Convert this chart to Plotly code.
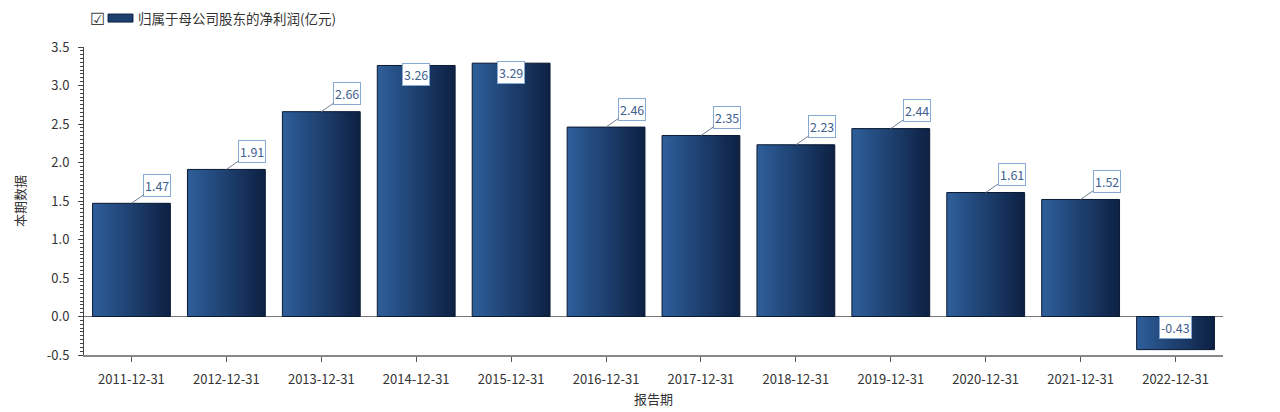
import plotly.graph_objects as go

# ---- data ----
categories = ["2011-12-31", "2012-12-31", "2013-12-31", "2014-12-31", "2015-12-31",
              "2016-12-31", "2017-12-31", "2018-12-31", "2019-12-31", "2020-12-31",
              "2021-12-31", "2022-12-31"]
net_profit = [1.47, 1.91, 2.66, 3.26, 3.29, 2.46, 2.35, 2.23, 2.44, 1.61, 1.52, -0.43]
series_name = "归属于母公司股东的净利润(亿元)"
y_title = "本期数据"
x_title = "报告期"
y_ticks = [-0.5, 0.0, 0.5, 1.0, 1.5, 2.0, 2.5, 3.0, 3.5]

# ---- style ----
FONT = "Noto Sans CJK SC, Open Sans, sans-serif"
left_rgb = (46, 94, 154)
right_rgb = (14, 34, 68)
n_slices = 30
bar_w = 0.82

fig = go.Figure()

# gradient by overlaying narrow slices of the same bars
for i in range(n_slices):
    t = i / (n_slices - 1)
    r = round(left_rgb[0] + (right_rgb[0] - left_rgb[0]) * t)
    g = round(left_rgb[1] + (right_rgb[1] - left_rgb[1]) * t)
    b = round(left_rgb[2] + (right_rgb[2] - left_rgb[2]) * t)
    sw = bar_w / n_slices
    fig.add_trace(go.Bar(
        x=categories, y=net_profit,
        width=sw * 1.6 if i < n_slices - 1 else sw, offset=-bar_w / 2 + i * sw,
        marker=dict(color=f"rgb({r},{g},{b})", line=dict(width=0)),
        showlegend=False, hoverinfo="skip",
    ))

# outline
fig.add_trace(go.Bar(
    x=categories, y=net_profit, width=bar_w, offset=-bar_w / 2,
    marker=dict(color="rgba(0,0,0,0)", line=dict(color="#0b1a33", width=1)),
    showlegend=False, name=series_name,
))

# value labels
for c, v in zip(categories, net_profit):
    common = dict(
        x=c, y=v, text=f"{v:.2f}", xref="x", yref="y",
        font=dict(family=FONT, size=12.5, color="#3f6290"),
        bgcolor="white", bordercolor="#86a9d2", borderwidth=1, borderpad=1,
    )
    if v < 0:
        fig.add_annotation(showarrow=False, yshift=22, **common)
    elif v > 3.1:
        fig.add_annotation(showarrow=False, yshift=-9, **common)
    else:
        fig.add_annotation(showarrow=True, arrowhead=0, arrowwidth=1,
                           arrowcolor="#6f7f95", ax=26, ay=-18, standoff=0, **common)

# custom legend: checkbox, swatch, text
fig.add_annotation(xref="paper", yref="paper", x=0.0035, y=1.092, xanchor="left",
                   yanchor="middle", text="☑", showarrow=False,
                   font=dict(family="DejaVu Sans", size=17, color="#444"))
fig.add_shape(type="rect", xref="paper", yref="paper",
              x0=0.0211, x1=0.043, y0=1.081, y1=1.107,
              fillcolor="#1c3f6e", line=dict(color="#0e2244", width=1))
fig.add_annotation(xref="paper", yref="paper", x=0.0455, y=1.094, xanchor="left",
                   yanchor="middle", text=series_name, showarrow=False,
                   font=dict(family=FONT, size=13.5, color="#333"))

fig.update_layout(
    width=1280, height=412,
    margin=dict(l=76, r=65, t=39, b=65),
    paper_bgcolor="white", plot_bgcolor="white",
    barmode="overlay", bargap=0.18,
    showlegend=False,
    font=dict(family=FONT, size=13, color="#333"),
)
fig.update_xaxes(
    type="category", showline=True, linecolor="#888", linewidth=2,
    ticks="outside", ticklen=5, tickcolor="#555", automargin=False,
    ticklabelstandoff=6,
    tickfont=dict(family=FONT, size=13, color="#333"),
    title=dict(text=x_title, font=dict(family=FONT, size=13, color="#333"), standoff=8),
    showgrid=False, zeroline=False,
)
fig.update_yaxes(
    range=[-0.5, 3.5], tickvals=y_ticks, ticktext=[f"{t:.1f}" for t in y_ticks],
    showline=True, linecolor="#444", linewidth=1, automargin=False,
    ticks="outside", ticklen=5, tickcolor="#444", ticklabelstandoff=6,
    minor=dict(dtick=0.05, ticks="outside", ticklen=3, tickcolor="#444"),
    tickfont=dict(family=FONT, size=13, color="#333"),
    title=dict(text=y_title, font=dict(family=FONT, size=13, color="#333"), standoff=18),
    showgrid=False, zeroline=True, zerolinecolor="#777", zerolinewidth=1,
)

fig.write_html("out.html")
